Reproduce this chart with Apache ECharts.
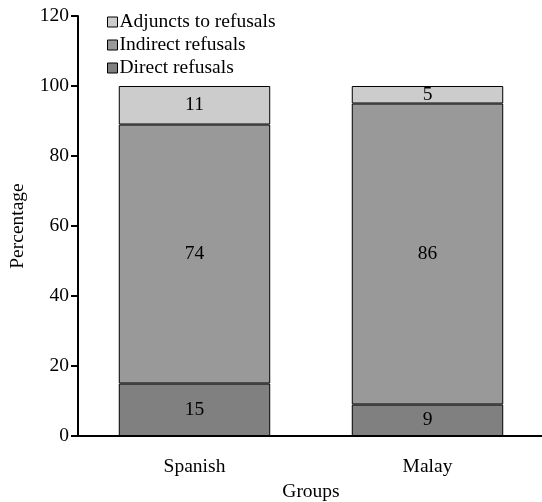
<!DOCTYPE html>
<html><head><meta charset="utf-8">
<script src="https://cdn.jsdelivr.net/npm/echarts@6/dist/echarts.min.js"></script>
<style>html,body{margin:0;padding:0;background:#fff}#c{width:542px;height:502px}</style>
</head><body><div id="c"></div>
<script>
const categories = ['Spanish', 'Malay'];
const directRefusals = [15, 9];
const indirectRefusals = [74, 86];
const adjunctsToRefusals = [11, 5];
const yTicks = [0, 20, 40, 60, 80, 100, 120];

const font = '"Liberation Serif", "Times New Roman", serif';
const fs = 19.5;
const chart = echarts.init(document.getElementById('c'));
function mk(name, data, color) {
  return {
    name, type: 'bar', stack: 'a', data,
    barCategoryGap: '35%',
    itemStyle: { color, borderColor: '#000', borderWidth: 1 },
    label: { show: true, position: 'inside', color: '#000', fontFamily: font, fontSize: fs }
  };
}
chart.setOption({
  animation: false,
  textStyle: { fontFamily: font },
  grid: { left: 78, right: -2, top: 16, bottom: 66, containLabel: false, outerBoundsMode: 'none' },
  legend: {
    orient: 'vertical', left: 102, top: 7,
    itemWidth: 10, itemHeight: 10, itemGap: 3,
    icon: 'rect',
    data: ['Adjuncts to refusals', 'Indirect refusals', 'Direct refusals'],
    textStyle: { fontFamily: font, fontSize: fs, color: '#000', padding: [0, 0, 0, -3] },
    itemStyle: { borderWidth: 1, borderColor: '#000' }
  },
  xAxis: {
    type: 'category', data: categories,
    name: 'Groups', nameLocation: 'middle', nameGap: 46,
    nameTextStyle: { fontFamily: font, fontSize: fs, color: '#000' },
    axisLine: { lineStyle: { color: '#000', width: 2 } },
    axisTick: { alignWithLabel: true, length: 7, lineStyle: { color: '#000', width: 2 } },
    axisLabel: { fontFamily: font, fontSize: fs, color: '#000', margin: 21 }
  },
  yAxis: {
    type: 'value', min: yTicks[0], max: yTicks[yTicks.length - 1], interval: 20,
    name: 'Percentage', nameLocation: 'middle', nameGap: 50,
    nameTextStyle: { fontFamily: font, fontSize: fs, color: '#000' },
    axisLine: { show: true, lineStyle: { color: '#000', width: 2 } },
    axisTick: { show: true, length: 7, lineStyle: { color: '#000', width: 2 } },
    axisLabel: { fontFamily: font, fontSize: fs, color: '#000', margin: 9 },
    splitLine: { show: false }
  },
  series: [
    mk('Direct refusals', directRefusals, '#808080'),
    mk('Indirect refusals', indirectRefusals, '#999999'),
    mk('Adjuncts to refusals', adjunctsToRefusals, '#cccccc')
  ]
});
</script></body></html>
